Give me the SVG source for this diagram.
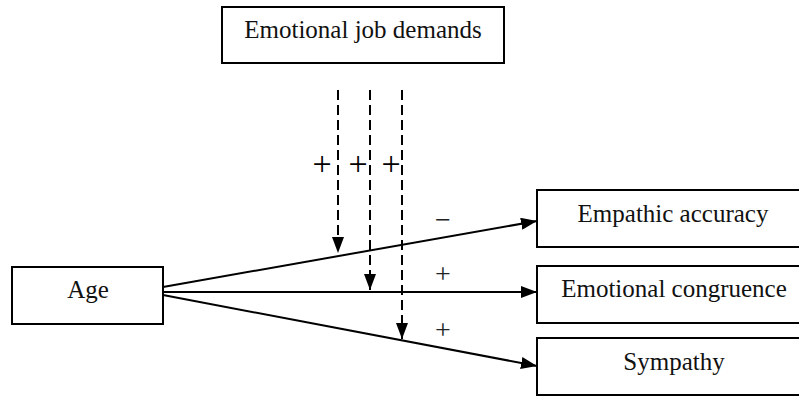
<svg xmlns="http://www.w3.org/2000/svg" width="799" height="396" viewBox="0 0 799 396">
<style>
.box{fill:#fff;stroke:#000;stroke-width:2}
.t{font-family:"Liberation Serif","Times New Roman",serif;font-size:25px;fill:#111;text-anchor:middle}
.s{font-family:"Liberation Serif","Times New Roman",serif;font-size:34px;fill:#000;text-anchor:middle}
.r{font-family:"Liberation Serif","Times New Roman",serif;font-size:28px;fill:#222;text-anchor:middle}
.ln{stroke:#000;stroke-width:2;fill:none}
.dl{stroke:#000;stroke-width:2;fill:none;stroke-dasharray:10 5}
</style>
<defs>
<marker id="ah" markerWidth="16" markerHeight="12" refX="16" refY="6" orient="auto" markerUnits="userSpaceOnUse">
<path d="M0,0 L16,6 L0,12 Z" fill="#000"/>
</marker>
</defs>
<rect width="799" height="396" fill="#fff"/>
<g id="emotional-job-demands">
<rect class="box" x="222" y="7" width="282" height="56"/>
<text class="t" x="363" y="38">Emotional job demands</text>
</g>
<g id="age">
<rect class="box" x="12" y="267" width="151" height="57"/>
<text class="t" x="88" y="298">Age</text>
</g>
<g id="empathic-accuracy">
<rect class="box" x="537" y="190" width="274" height="57"/>
<text class="t" x="673" y="222">Empathic accuracy</text>
</g>
<g id="emotional-congruence">
<rect class="box" x="537" y="266" width="274" height="57"/>
<text class="t" x="674" y="297">Emotional congruence</text>
</g>
<g id="sympathy">
<rect class="box" x="537" y="338" width="274" height="57"/>
<text class="t" x="674" y="370">Sympathy</text>
</g>
<g id="connectors">
<line class="ln" x1="163" y1="287" x2="537" y2="221" marker-end="url(#ah)"/>
<line class="ln" x1="163" y1="292" x2="537" y2="292" marker-end="url(#ah)"/>
<line class="ln" x1="163" y1="295" x2="537" y2="366" marker-end="url(#ah)"/>
<line class="dl" x1="338" y1="90" x2="338" y2="253" marker-end="url(#ah)"/>
<line class="dl" x1="370" y1="90" x2="370" y2="290" marker-end="url(#ah)"/>
<line class="dl" x1="402" y1="90" x2="402" y2="339" marker-end="url(#ah)"/>
<text class="s" x="322" y="175">+</text>
<text class="s" x="358" y="175">+</text>
<text class="s" x="391" y="175">+</text>
<text class="r" x="443" y="229">−</text>
<text class="r" x="443" y="283">+</text>
<text class="r" x="443" y="339">+</text>
</g>
</svg>
